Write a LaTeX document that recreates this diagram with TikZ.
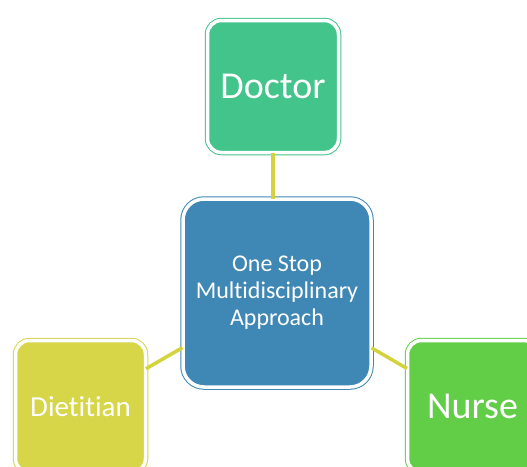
\documentclass[tikz,border=0pt]{standalone}
\usepackage{fontspec}
\setmainfont{Carlito}[Ligatures={NoCommon}]
\usepackage{tikz}

\definecolor{doctorgreen}{HTML}{42C48A}
\definecolor{hubblue}{HTML}{3F88B5}
\definecolor{dietyellow}{HTML}{D7D548}
\definecolor{nursegreen}{HTML}{62CE47}
\definecolor{linkyellow}{HTML}{D4D33E}

\begin{document}
\begin{tikzpicture}[x=1pt, y=-1pt,
  role/.style={draw=#1, fill=#1, double=white, double distance=3.5pt, line width=1pt,
    rounded corners=14pt, minimum width=130pt, minimum height=132pt, text=white, inner sep=0pt},
  link/.style={draw=linkyellow, line width=3.5pt}]
 \useasboundingbox (0,0) rectangle (527,466);
 \node (hub) [role=hubblue, minimum width=188pt, minimum height=188pt, rounded corners=21pt,
   align=center, font=\fontsize{24}{27}\selectfont] at (277,293)
   {One Stop\\Multidisciplinary\\Approach};
 \node (doctor) [role=doctorgreen, minimum width=131pt, font=\fontsize{38}{40}\selectfont] at (273,86.5) {Doctor};
 \node (dietitian) [role=dietyellow, font=\fontsize{29}{31}\selectfont] at (80.5,406.5) {Dietitian};
 \node (nurse) [role=nursegreen, font=\fontsize{38}{40}\selectfont] at (472.5,406.5) {Nurse};
 \path[link]
  (doctor.south) edge (doctor.south |- hub.north)
  (hub) edge (dietitian)
  edge (nurse);
\end{tikzpicture}
\end{document}
